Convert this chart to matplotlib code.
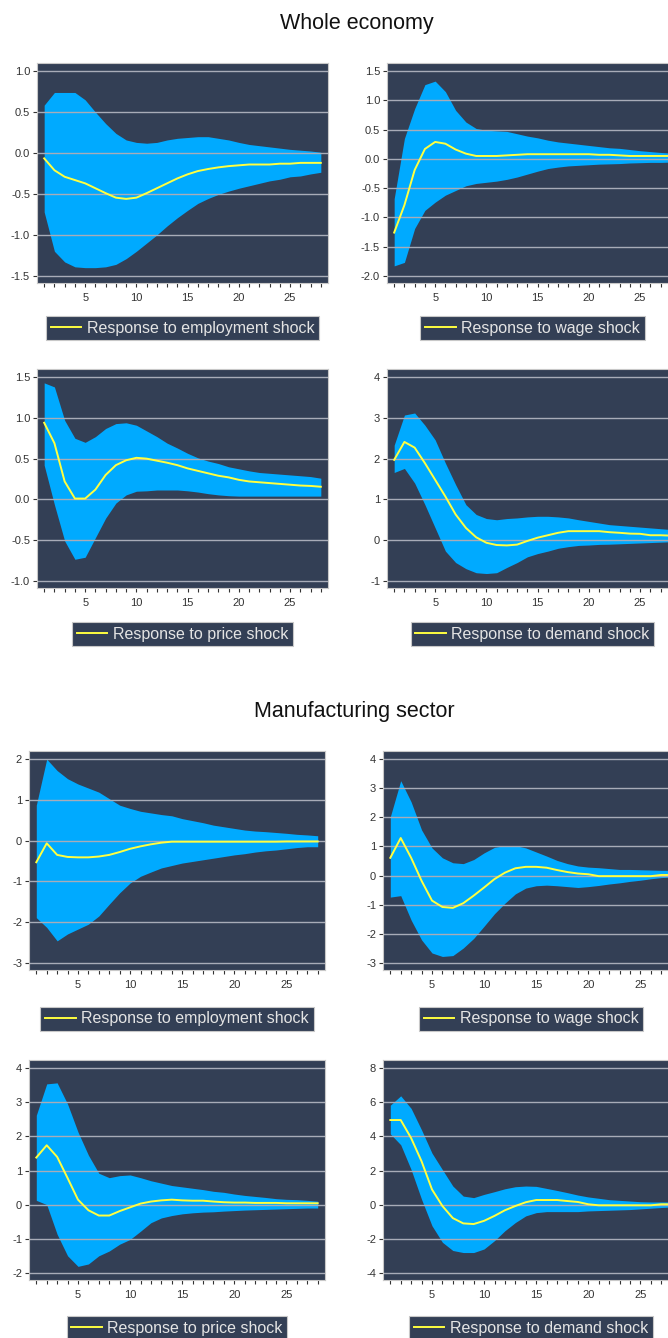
import matplotlib
matplotlib.use("Agg")
import matplotlib.pyplot as plt
from matplotlib.ticker import MultipleLocator

plt.rcParams["font.family"] = ["Liberation Sans", "DejaVu Sans"]

periods = list(range(1, 29))

# Whole economy
we_emp_mid = [-0.065, -0.21, -0.29, -0.33, -0.37, -0.43, -0.49, -0.545, -0.56, -0.545, -0.49, -0.43, -0.37, -0.31,
              -0.26, -0.22, -0.195, -0.175, -0.16, -0.15, -0.14, -0.14, -0.14, -0.13, -0.13, -0.12, -0.12, -0.12]
we_emp_hi = [0.585, 0.74, 0.74, 0.74, 0.65, 0.50, 0.36, 0.24, 0.16, 0.13, 0.12, 0.13, 0.16, 0.18,
             0.19, 0.20, 0.20, 0.18, 0.16, 0.13, 0.105, 0.09, 0.075, 0.06, 0.045, 0.035, 0.025, 0.01]
we_emp_lo = [-0.72, -1.2, -1.33, -1.39, -1.40, -1.40, -1.39, -1.36, -1.29, -1.2, -1.10, -1.0, -0.89, -0.79,
             -0.70, -0.615, -0.555, -0.505, -0.465, -0.43, -0.40, -0.37, -0.34, -0.32, -0.29, -0.28, -0.255, -0.235]

we_wage_mid = [-1.26, -0.79, -0.19, 0.17, 0.29, 0.26, 0.16, 0.09, 0.05, 0.05, 0.05, 0.06, 0.07, 0.08,
               0.08, 0.08, 0.08, 0.08, 0.08, 0.08, 0.07, 0.07, 0.06, 0.05, 0.05, 0.05, 0.05, 0.05]
we_wage_hi = [-0.68, 0.35, 0.86, 1.27, 1.33, 1.15, 0.83, 0.63, 0.52, 0.49, 0.48, 0.47, 0.43, 0.39,
              0.36, 0.32, 0.29, 0.27, 0.25, 0.23, 0.21, 0.19, 0.18, 0.16, 0.14, 0.125, 0.11, 0.10]
we_wage_lo = [-1.83, -1.77, -1.19, -0.88, -0.74, -0.62, -0.54, -0.46, -0.42, -0.40, -0.38, -0.35, -0.31, -0.26,
              -0.21, -0.165, -0.14, -0.12, -0.11, -0.10, -0.09, -0.085, -0.08, -0.07, -0.065, -0.06, -0.06, -0.055]

we_price_mid = [0.94, 0.69, 0.22, 0.01, 0.01, 0.12, 0.30, 0.42, 0.48, 0.51, 0.50, 0.475, 0.45, 0.42,
                0.38, 0.35, 0.32, 0.29, 0.27, 0.24, 0.22, 0.21, 0.20, 0.19, 0.18, 0.17, 0.165, 0.155]
we_price_hi = [1.43, 1.38, 0.97, 0.75, 0.70, 0.77, 0.87, 0.93, 0.94, 0.91, 0.84, 0.77, 0.69, 0.63,
               0.565, 0.51, 0.47, 0.44, 0.40, 0.375, 0.35, 0.33, 0.32, 0.31, 0.30, 0.29, 0.28, 0.26]
we_price_lo = [0.42, -0.065, -0.51, -0.735, -0.71, -0.47, -0.23, -0.045, 0.055, 0.10, 0.105, 0.115, 0.115, 0.115,
               0.105, 0.09, 0.07, 0.055, 0.045, 0.04, 0.04, 0.04, 0.04, 0.04, 0.04, 0.04, 0.04, 0.04]

we_dem_mid = [1.97, 2.41, 2.27, 1.89, 1.48, 1.07, 0.63, 0.30, 0.07, -0.065, -0.12, -0.13, -0.11, -0.02,
              0.06, 0.12, 0.18, 0.22, 0.22, 0.22, 0.22, 0.195, 0.18, 0.16, 0.155, 0.12, 0.12, 0.11]
we_dem_hi = [2.33, 3.07, 3.12, 2.82, 2.46, 1.89, 1.36, 0.87, 0.63, 0.53, 0.50, 0.53, 0.545, 0.57,
             0.585, 0.585, 0.57, 0.545, 0.50, 0.46, 0.42, 0.38, 0.36, 0.34, 0.32, 0.30, 0.28, 0.26]
we_dem_lo = [1.66, 1.76, 1.40, 0.87, 0.30, -0.27, -0.55, -0.70, -0.80, -0.82, -0.80, -0.67, -0.55, -0.41,
             -0.33, -0.27, -0.20, -0.16, -0.13, -0.12, -0.105, -0.10, -0.09, -0.08, -0.07, -0.06, -0.05, -0.04]

# Manufacturing sector
mf_emp_mid = [-0.53, -0.065, -0.35, -0.40, -0.41, -0.41, -0.39, -0.35, -0.28, -0.20, -0.14, -0.09, -0.05, -0.025,
              -0.025, -0.025, -0.025, -0.025, -0.025, -0.025, -0.025, -0.025, -0.025, -0.025, -0.02, -0.02, -0.02, -0.02]
mf_emp_hi = [0.87, 2.0, 1.72, 1.52, 1.39, 1.29, 1.19, 1.03, 0.87, 0.79, 0.72, 0.68, 0.64, 0.61,
             0.54, 0.49, 0.44, 0.38, 0.34, 0.30, 0.26, 0.235, 0.22, 0.20, 0.18, 0.155, 0.14, 0.12]
mf_emp_lo = [-1.89, -2.13, -2.46, -2.29, -2.17, -2.05, -1.85, -1.56, -1.28, -1.04, -0.875, -0.77, -0.67, -0.61,
             -0.55, -0.51, -0.47, -0.43, -0.39, -0.35, -0.32, -0.28, -0.25, -0.23, -0.20, -0.17, -0.15, -0.15]

mf_wage_mid = [0.61, 1.29, 0.61, -0.18, -0.86, -1.08, -1.11, -0.95, -0.69, -0.41, -0.12, 0.10, 0.25, 0.30,
               0.30, 0.27, 0.19, 0.12, 0.07, 0.045, -0.02, -0.02, -0.02, -0.02, -0.02, -0.02, 0.02, 0.02]
mf_wage_hi = [2.02, 3.26, 2.53, 1.57, 0.95, 0.61, 0.44, 0.41, 0.55, 0.78, 0.97, 1.03, 1.03, 0.95,
              0.81, 0.67, 0.52, 0.41, 0.33, 0.29, 0.27, 0.24, 0.21, 0.21, 0.20, 0.19, 0.18, 0.18]
mf_wage_lo = [-0.74, -0.69, -1.53, -2.21, -2.66, -2.78, -2.75, -2.49, -2.16, -1.74, -1.31, -0.95, -0.63, -0.43,
              -0.35, -0.33, -0.35, -0.38, -0.41, -0.38, -0.34, -0.29, -0.25, -0.20, -0.16, -0.11, -0.07, -0.05]

mf_price_mid = [1.38, 1.74, 1.40, 0.78, 0.145, -0.165, -0.32, -0.32, -0.19, -0.08, 0.03, 0.09, 0.125, 0.145,
                0.125, 0.115, 0.115, 0.09, 0.07, 0.06, 0.06, 0.05, 0.05, 0.05, 0.04, 0.04, 0.04, 0.04]
mf_price_hi = [2.62, 3.54, 3.57, 2.95, 2.13, 1.45, 0.92, 0.79, 0.85, 0.87, 0.79, 0.70, 0.63, 0.56,
               0.52, 0.48, 0.44, 0.39, 0.36, 0.31, 0.27, 0.24, 0.21, 0.175, 0.155, 0.145, 0.125, 0.10]
mf_price_lo = [0.125, 0.0, -0.87, -1.50, -1.81, -1.74, -1.50, -1.36, -1.16, -1.02, -0.78, -0.53, -0.39, -0.32,
               -0.27, -0.24, -0.22, -0.21, -0.19, -0.175, -0.16, -0.15, -0.14, -0.13, -0.12, -0.11, -0.10, -0.10]

mf_dem_mid = [4.96, 4.96, 3.90, 2.54, 0.89, -0.08, -0.79, -1.10, -1.14, -0.95, -0.66, -0.33, -0.08, 0.14,
              0.27, 0.27, 0.27, 0.21, 0.155, 0.02, -0.04, -0.04, -0.04, -0.04, -0.04, -0.04, 0.02, 0.02]
mf_dem_hi = [5.83, 6.38, 5.64, 4.38, 3.02, 2.05, 1.09, 0.50, 0.41, 0.60, 0.76, 0.93, 1.05, 1.09,
             1.07, 0.95, 0.83, 0.70, 0.56, 0.45, 0.37, 0.29, 0.25, 0.21, 0.17, 0.155, 0.155, 0.155]
mf_dem_lo = [4.15, 3.51, 2.05, 0.31, -1.24, -2.21, -2.69, -2.81, -2.81, -2.60, -2.11, -1.53, -1.05, -0.66,
             -0.47, -0.41, -0.41, -0.41, -0.41, -0.37, -0.35, -0.33, -0.31, -0.29, -0.25, -0.21, -0.17, -0.14]

labels = ["Response to employment shock", "Response to wage shock",
          "Response to price shock", "Response to demand shock"]

BG = "#333f55"
BAND = "#00aaff"
LINE = "#ffff40"
GRID = "#a8acb8"

W, H = 668, 1338


def box(x0, y0, x1, y1):
    # pixel box (top-left origin) -> figure fraction
    return [x0 / W, 1 - y1 / H, (x1 - x0) / W, (y1 - y0) / H]


def draw_panel(fig, rect, mid, hi, lo, label, ylims, ystep, fmt, leg_y):
    ax = fig.add_axes(box(*rect))
    ax.set_facecolor(BG)
    ax.fill_between(periods, lo, hi, color=BAND, lw=0, zorder=2)
    line, = ax.plot(periods, mid, color=LINE, lw=1.4, zorder=3, label=label)
    lo_t, hi_t = ylims
    r = hi_t - lo_t
    ax.set_ylim(lo_t - 0.035 * r, hi_t + 0.04 * r)
    ax.set_xlim(0.3, 28.7)
    ax.yaxis.set_major_locator(MultipleLocator(ystep))
    ax.yaxis.set_major_formatter(plt.FuncFormatter(lambda v, p: fmt.format(v)))
    ax.xaxis.set_major_locator(MultipleLocator(5))
    ax.xaxis.set_minor_locator(MultipleLocator(1))
    for s in ax.spines.values():
        s.set_color("#c8c8c8")
        s.set_linewidth(0.8)
    ax.tick_params(axis="both", which="both", direction="out", length=3, width=0.8,
                   color="#333333", labelsize=8, labelcolor="#333333", pad=2)
    ax.tick_params(axis="x", pad=4)
    # gridlines drawn over the band, as in the original
    for gy in ax.get_yticks():
        ax.axhline(gy, color=GRID, lw=1.0, zorder=2.5)
    cx = (rect[0] + rect[2]) / 2
    leg = fig.legend(handles=[line], loc="center", bbox_to_anchor=(cx / W, 1 - leg_y / H),
                     frameon=True, fancybox=False, facecolor=BG, edgecolor="#c8c8c8", framealpha=1,
                     fontsize=11.5, handlelength=1.9, handletextpad=0.35, borderpad=0.3,
                     borderaxespad=0)
    leg.get_frame().set_linewidth(0.8)
    for t in leg.get_texts():
        t.set_color("#e4e4e4")
    return ax


fig = plt.figure(figsize=(6.68, 13.38), dpi=100)
fig.patch.set_facecolor("white")

fig.text(357 / W, 1 - 23 / H, "Whole economy", ha="center", va="center", fontsize=15.5, color="#111111")
fig.text(354 / W, 1 - 711 / H, "Manufacturing sector", ha="center", va="center", fontsize=15.5, color="#111111")

draw_panel(fig, (37, 63, 328, 283), we_emp_mid, we_emp_hi, we_emp_lo, labels[0], (-1.5, 1.0), 0.5, "{:.1f}", 328)
draw_panel(fig, (387, 63, 678, 283), we_wage_mid, we_wage_hi, we_wage_lo, labels[1], (-2.0, 1.5), 0.5, "{:.1f}", 328)
draw_panel(fig, (37, 369, 328, 588), we_price_mid, we_price_hi, we_price_lo, labels[2], (-1.0, 1.5), 0.5, "{:.1f}", 634)
draw_panel(fig, (387, 369, 678, 588), we_dem_mid, we_dem_hi, we_dem_lo, labels[3], (-1, 4), 1, "{:.0f}", 634)

draw_panel(fig, (29, 751, 325, 970), mf_emp_mid, mf_emp_hi, mf_emp_lo, labels[0], (-3, 2), 1, "{:.0f}", 1019)
draw_panel(fig, (383, 751, 679, 970), mf_wage_mid, mf_wage_hi, mf_wage_lo, labels[1], (-3, 4), 1, "{:.0f}", 1019)
draw_panel(fig, (29, 1060, 325, 1280), mf_price_mid, mf_price_hi, mf_price_lo, labels[2], (-2, 4), 1, "{:.0f}", 1328)
draw_panel(fig, (383, 1060, 679, 1280), mf_dem_mid, mf_dem_hi, mf_dem_lo, labels[3], (-4, 8), 2, "{:.0f}", 1328)

fig.savefig("out.png", dpi=100, facecolor="white")
